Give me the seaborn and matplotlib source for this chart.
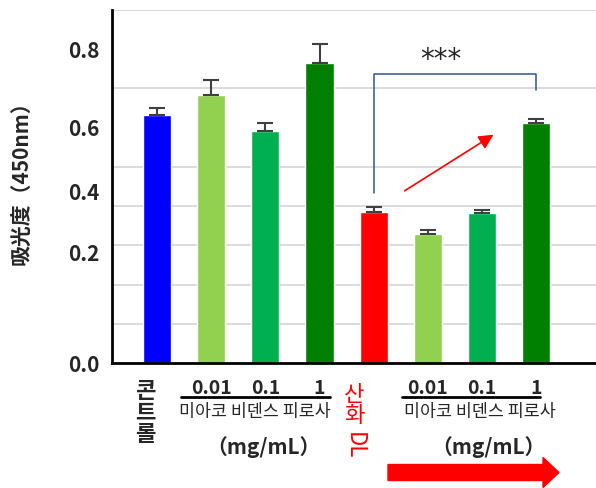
import numpy as np
import pandas as pd
import matplotlib
matplotlib.use("Agg")
import matplotlib.pyplot as plt
from matplotlib.patches import FancyArrow
from matplotlib.lines import Line2D
import seaborn as sns

# data
groups = ['콘트롤', '0.01', '0.1', '1', '산화LDL', '0.01 + 산화LDL', '0.1 + 산화LDL', '1 + 산화LDL']
absorbance = [0.633, 0.684, 0.592, 0.765, 0.385, 0.329, 0.383, 0.612]
sem = [0.018, 0.038, 0.020, 0.049, 0.013, 0.010, 0.008, 0.010]
bar_colors = ['#0000FF', '#92D050', '#00B050', '#008000', '#FF0000', '#92D050', '#00B050', '#008000']
dose_labels = ['', '0.01', '0.1', '1', '', '0.01', '0.1', '1']
y_tick_labels = ['0.0', '0.2', '0.4', '0.6', '0.8']
y_tick_pos = [0.0, 0.283, 0.436, 0.6, 0.8]   # where the labels sit in the reference

sns.set_theme(style='white')
plt.rcParams['font.family'] = ['Noto Sans CJK KR', 'DejaVu Sans']

W, H = 596, 488
def fx(px):
    return px / W
def fy(py):
    return 1 - py / H

fig = plt.figure(figsize=(W / 100, H / 100), dpi=100)
ax = fig.add_axes([fx(112), fy(363), fx(596) - fx(112), fy(10) - fy(363)])

df = pd.DataFrame({'group': groups, 'value': absorbance})
sns.barplot(data=df, x='group', y='value', hue='group', palette=bar_colors,
            legend=False, width=0.52, saturation=1, ax=ax, zorder=2)
ax.errorbar(range(len(groups)), absorbance, yerr=[np.zeros(len(sem)), sem],
            fmt='none', ecolor='#404040', elinewidth=1.5, capsize=5.5, capthick=1.5, zorder=3)

ax.set_xlim(-0.83, 8.1)
ax.set_ylim(0, 0.9)
ax.set_xlabel('')
ax.set_ylabel('')
ax.set_xticks([])
ax.set_yticks(np.arange(0, 0.91, 0.1), minor=True)
ax.set_yticks(y_tick_pos, y_tick_labels)
ax.tick_params(axis='y', which='both', length=0, pad=9, labelsize=15)
for t in ax.get_yticklabels():
    t.set_fontweight('bold')
ax.grid(False)
ax.grid(which='minor', axis='y', color='#D9D9D9', lw=1.3, zorder=0)
ax.set_axisbelow(True)
for s in ['top', 'right']:
    ax.spines[s].set_visible(False)
for s in ['left', 'bottom']:
    ax.spines[s].set_color('black')
    ax.spines[s].set_linewidth(2)

# significance bracket
ax.plot([4, 4, 7, 7], [0.434, 0.737, 0.737, 0.696], color='#2F5597', lw=1.1, zorder=4)
ax.text(5.23, 0.772, '***', ha='center', va='center', fontsize=20, family='DejaVu Sans')
ax.annotate('', xy=(6.21, 0.582), xytext=(4.57, 0.439),
            arrowprops=dict(arrowstyle='-|>', color='red', lw=1.2,
                            mutation_scale=22, shrinkA=0, shrinkB=0))

# labels under the axis
xt = ax.get_xaxis_transform()
def ay(py):
    return (363 - py) / 353
for i, lab in enumerate(dose_labels):
    if lab:
        ax.text(i, ay(389), lab, transform=xt, ha='center', va='center',
                fontsize=14, fontweight='bold')

fig.text(fx(145), fy(413), '콘\n트\n롤', ha='center', va='center', fontsize=16,
         fontweight='bold', linespacing=0.9)
fig.text(fx(354), fy(405), '산\n화', ha='center', va='center', fontsize=16,
         color='red', linespacing=0.9)
fig.text(fx(354), fy(446), 'DL', ha='center', va='center', fontsize=16,
         color='red', rotation=-90)

for x0, x1, xc in [(181, 330, 255), (402, 540, 480)]:
    fig.add_artist(Line2D([fx(x0), fx(x1)], [fy(397), fy(397)], color='black', lw=2))
    fig.text(fx(xc), fy(412), '미아코 비덴스 피로사', ha='center', va='center', fontsize=12.5)
    fig.text(fx(xc + 8), fy(447), '（mg/mL）', ha='center', va='center', fontsize=15,
             fontweight='bold')

fig.text(fx(22), fy(178), '吸光度（450nm）', rotation=90, ha='center', va='center',
         fontsize=15, fontweight='bold', family=['Noto Sans CJK JP', 'DejaVu Sans'])

fig.add_artist(FancyArrow(3.88, 0.155, 1.71, 0, width=0.16, head_width=0.30,
                          head_length=0.16, length_includes_head=True, color='red',
                          transform=fig.dpi_scale_trans))

fig.savefig('out.png', dpi=100)
